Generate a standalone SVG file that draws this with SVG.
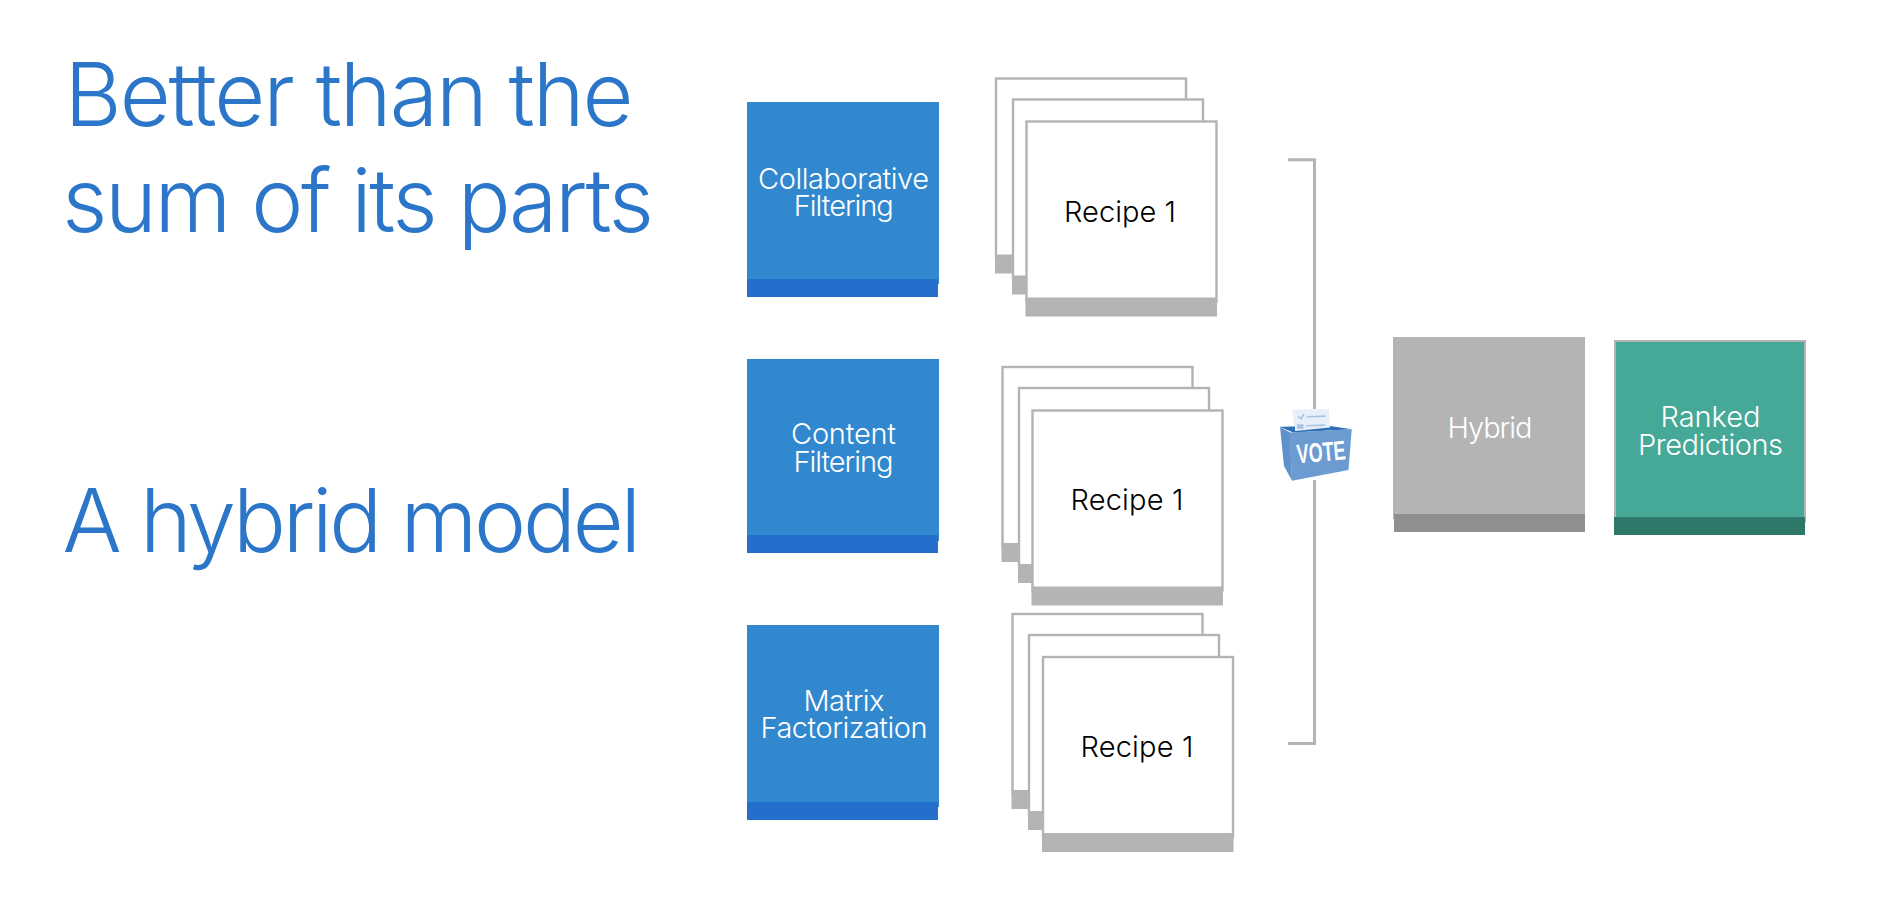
<svg xmlns="http://www.w3.org/2000/svg" width="1900" height="924" viewBox="0 0 1900 924">
<style>
.t{font-size:88px;fill:#2b76c8;font-family:Inter,"Liberation Sans",sans-serif;font-weight:300}
.l,.k{font-size:29px;text-anchor:middle;font-family:Inter,"Liberation Sans",sans-serif;font-weight:300}
.l{fill:#fff}
.k{fill:#000}
.bm{fill:#3288ce}
.bf{fill:#236fcb}
.cm{fill:#fff;stroke:#b3b3b3;stroke-width:2.4}
.cf{fill:#b4b4b4}
.br{fill:none;stroke:#b4b4b4;stroke-width:3}
</style>
<defs>
<g id="card"><rect class="cm" x="1" y="1" width="190" height="180"/><rect class="cf" x="0" y="177" width="191.5" height="19"/></g>
</defs>
<rect width="1900" height="924" fill="#fff"/>
<g id="titles">
<text class="t" x="64.5" y="126" textLength="569">Better than the</text>
<text class="t" x="62" y="232" textLength="592">sum of its parts</text>
<text class="t" x="62.5" y="552" textLength="578.5">A hybrid model</text>
</g>
<g id="connectors">
<path class="br" d="M1288 159.7H1314.5V743.5H1288"/>
</g>
<g id="cf">
<rect class="bm" x="747" y="102" width="192" height="182"/><rect class="bf" x="747" y="279" width="191" height="18"/>
<text class="l" x="843.5" y="188.5" textLength="171">Collaborative</text>
<text class="l" x="843.8" y="215.8" textLength="100">Filtering</text>
</g>
<g id="content">
<rect class="bm" x="747" y="359" width="192" height="182"/><rect class="bf" x="747" y="535" width="191" height="18"/>
<text class="l" x="843.5" y="443.7" textLength="105">Content</text>
<text class="l" x="843.5" y="471.7" textLength="100">Filtering</text>
</g>
<g id="matrix">
<rect class="bm" x="747" y="625" width="192" height="182"/><rect class="bf" x="747" y="802" width="191" height="18"/>
<text class="l" x="844" y="711" textLength="81">Matrix</text>
<text class="l" x="844" y="737.7" textLength="167">Factorization</text>
</g>
<g id="recipes-1">
<use href="#card" x="995" y="77.5"/><use href="#card" x="1012" y="98.5"/><use href="#card" x="1025.5" y="120.5"/>
<text class="k" x="1120" y="221.7" textLength="112">Recipe 1</text>
</g>
<g id="recipes-2">
<use href="#card" x="1001.5" y="366"/><use href="#card" x="1018" y="387"/><use href="#card" x="1031.5" y="409.5"/>
<text class="k" x="1127" y="509.7" textLength="113">Recipe 1</text>
</g>
<g id="recipes-3">
<use href="#card" x="1011.5" y="613"/><use href="#card" x="1028" y="634"/><use href="#card" x="1042" y="656"/>
<text class="k" x="1137" y="756.5" textLength="113">Recipe 1</text>
</g>
<g id="vote">
<rect x="1306" y="409" width="14" height="71" fill="#fff"/>
<polygon points="1292,409.8 1329,409 1330,428 1295,431" fill="#e8eff8"/>
<path d="M1298 416l3 3 3-5" fill="none" stroke="#a9c4e4" stroke-width="1.6"/>
<path d="M1307 416.7l19-.6M1306 425.7l19-.6" fill="none" stroke="#a9c4e4" stroke-width="1.6"/>
<rect x="1297" y="424.3" width="6.5" height="4.5" fill="#a9c4e4"/>
<polygon points="1280,426.7 1295,426.5 1295,431 1330,427.5 1330,426 1352,429.3 1293,432.5" fill="#2f6fb8"/>
<polygon points="1280,426.7 1290,432.5 1292,480.7 1284,466" fill="#5f92cb"/>
<polygon points="1289.5,432.5 1351.7,429.3 1348.5,470 1292,480.7" fill="#6b9bd0"/>
<text x="0" y="0" transform="translate(1297.5 463.5) rotate(-5)" font-family="'Liberation Sans',Arial,sans-serif" font-weight="700" font-size="27" fill="#fff" textLength="49" lengthAdjust="spacingAndGlyphs">VOTE</text>
</g>
<g id="hybrid">
<rect x="1393" y="337" width="192" height="182" fill="#b4b4b4"/><rect x="1394" y="514" width="191" height="18" fill="#8f8f8f"/>
<text class="l" x="1490" y="438" textLength="85">Hybrid</text>
</g>
<g id="ranked">
<rect x="1615" y="341" width="190" height="180.5" fill="#46a897" stroke="#b3b3b3" stroke-width="2"/><rect x="1614" y="517" width="191" height="18" fill="#2e786b"/>
<text class="l" x="1710.5" y="427" textLength="100">Ranked</text>
<text class="l" x="1710.5" y="455" textLength="145">Predictions</text>
</g>
</svg>
